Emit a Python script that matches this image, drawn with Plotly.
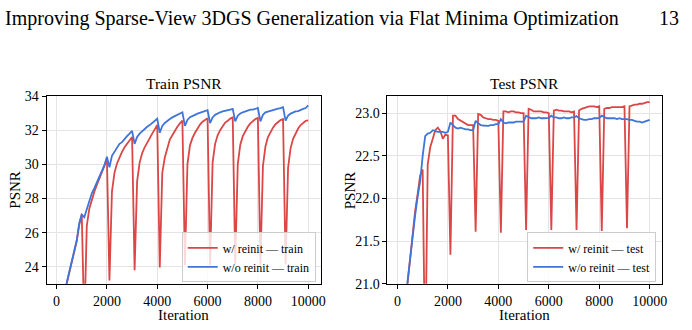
import plotly.graph_objects as go

iterations = list(range(100, 10001, 100))

train_reinit = [
    14.0, 17.5, 20.6, 23.0, 23.6, 24.2, 24.8, 25.5, 26.45, 27.1,
    20.5, 26.4, 27.4, 27.95, 28.4, 28.8, 29.15, 29.5, 29.9, 30.35,
    23.2, 28.4, 29.5, 30.05, 30.42, 30.73, 31.0, 31.2, 31.4, 31.6,
    23.8, 29.0, 30.1, 30.65, 31.0, 31.3, 31.55, 31.8, 32.05, 32.3,
    23.95, 29.5, 30.4, 31.0, 31.45, 31.7, 32.0, 32.2, 32.4, 32.57,
    24.1, 30.0, 31.1, 31.55, 31.85, 32.1, 32.33, 32.5, 32.6, 32.7,
    24.1, 30.1, 31.2, 31.7, 32.0, 32.25, 32.45, 32.55, 32.68, 32.75,
    24.15, 30.0, 31.15, 31.65, 31.95, 32.2, 32.4, 32.55, 32.65, 32.72,
    24.1, 29.9, 31.05, 31.6, 31.9, 32.15, 32.35, 32.5, 32.6, 32.65,
    24.15, 29.8, 30.95, 31.5, 31.85, 32.1, 32.3, 32.45, 32.55, 32.57,
]

train_noreinit = [
    14.5, 18.0, 21.0, 23.05, 23.65, 24.3, 24.85, 25.55, 26.55, 27.05,
    26.9, 27.35, 27.9, 28.3, 28.6, 28.95, 29.25, 29.55, 29.95, 30.45,
    29.83, 30.5, 30.75, 30.95, 31.2, 31.3, 31.5, 31.65, 31.8, 31.96,
    31.2, 31.6, 31.8, 31.95, 32.05, 32.2, 32.3, 32.42, 32.55, 32.67,
    31.85, 32.25, 32.42, 32.55, 32.65, 32.75, 32.82, 32.88, 32.95, 33.05,
    32.25, 32.6, 32.76, 32.85, 32.9, 32.97, 33.02, 33.05, 33.1, 33.17,
    32.42, 32.75, 32.9, 33.0, 33.05, 33.1, 33.12, 33.17, 33.2, 33.25,
    32.52, 32.85, 32.98, 33.05, 33.1, 33.15, 33.2, 33.2, 33.25, 33.3,
    32.52, 32.9, 33.05, 33.1, 33.15, 33.2, 33.22, 33.27, 33.3, 33.35,
    32.56, 32.85, 32.97, 33.05, 33.1, 33.12, 33.2, 33.25, 33.3, 33.45,
]

test_reinit = [
    18.5, 19.6, 20.4, 21.0, 21.3, 21.6, 21.85, 22.05, 22.27, 22.34,
    20.0, 22.4, 22.6, 22.7, 22.8, 22.83, 22.79, 22.7, 22.75, 22.74,
    21.34, 22.97, 22.97, 22.93, 22.91, 22.9, 22.88, 22.86, 22.86, 22.86,
    21.61, 22.99, 22.98, 22.95, 22.94, 22.93, 22.93, 22.92, 22.92, 22.91,
    21.6, 23.02, 23.02, 23.01, 23.02, 23.02, 23.01, 23.01, 23.0, 23.0,
    21.63, 23.05, 23.04, 23.02, 23.02, 23.02, 23.02, 23.01, 23.01, 23.0,
    21.63, 23.03, 23.04, 23.03, 23.03, 23.02, 23.02, 23.02, 23.01, 23.02,
    21.63, 23.03, 23.05, 23.06, 23.07, 23.08, 23.08, 23.08, 23.07, 23.08,
    21.62, 23.05, 23.06, 23.06, 23.07, 23.07, 23.07, 23.07, 23.07, 23.08,
    21.65, 23.08, 23.09, 23.1, 23.1, 23.11, 23.11, 23.12, 23.13, 23.13,
]

test_noreinit = [
    18.5, 19.6, 20.5, 21.03, 21.3, 21.55, 21.8, 22.02, 22.2, 22.5,
    22.73, 22.76, 22.77, 22.8, 22.79, 22.78, 22.78, 22.78, 22.77, 22.78,
    22.89, 22.86, 22.83, 22.82, 22.83, 22.82, 22.81, 22.81, 22.8, 22.8,
    22.91, 22.88, 22.86, 22.855, 22.85, 22.85, 22.86, 22.86, 22.87, 22.87,
    22.93, 22.89, 22.88, 22.89, 22.89, 22.89, 22.9, 22.9, 22.9, 22.9,
    22.97, 22.95, 22.94, 22.94, 22.94, 22.95, 22.94, 22.94, 22.945, 22.945,
    22.97, 22.95, 22.95, 22.94, 22.94, 22.95, 22.94, 22.94, 22.95, 22.95,
    22.965, 22.94, 22.93, 22.92, 22.92, 22.93, 22.93, 22.94, 22.94, 22.945,
    22.97, 22.95, 22.94, 22.94, 22.94, 22.94, 22.93, 22.94, 22.93, 22.93,
    22.93, 22.92, 22.92, 22.91, 22.9, 22.9, 22.89, 22.9, 22.91, 22.92,
]

header_text = "Improving Sparse-View 3DGS Generalization via Flat Minima Optimization"
page_number = "13"
x_ticks = [0, 2000, 4000, 6000, 8000, 10000]
x_tick_labels = ["0", "2000", "4000", "6000", "8000", "10000"]
train_y_ticks = [24, 26, 28, 30, 32, 34]
train_y_labels = ["24", "26", "28", "30", "32", "34"]
test_y_ticks = [21.0, 21.5, 22.0, 22.5, 23.0]
test_y_labels = ["21.0", "21.5", "22.0", "22.5", "23.0"]

RED = "#db4646"
BLUE = "#3f74d8"
FONT = "Liberation Serif"
W, H = 692, 330

fig = go.Figure()

fig.add_trace(go.Scatter(x=iterations, y=train_reinit, mode="lines", name="w/ reinit — train",
                         line=dict(color=RED, width=1.8), xaxis="x", yaxis="y", legend="legend"))
fig.add_trace(go.Scatter(x=iterations, y=train_noreinit, mode="lines", name="w/o reinit — train",
                         line=dict(color=BLUE, width=1.8), xaxis="x", yaxis="y", legend="legend"))
fig.add_trace(go.Scatter(x=iterations, y=test_reinit, mode="lines", name="w/ reinit — test",
                         line=dict(color=RED, width=1.8), xaxis="x2", yaxis="y2", legend="legend2"))
fig.add_trace(go.Scatter(x=iterations, y=test_noreinit, mode="lines", name="w/o reinit — test",
                         line=dict(color=BLUE, width=1.8), xaxis="x2", yaxis="y2", legend="legend2"))

ydom = [1 - 290 / H, 1 - 93.3 / H]
axis_common = dict(showline=True, linecolor="black", linewidth=1, mirror=True,
                   ticks="outside", ticklen=4, tickcolor="black", tickwidth=1,
                   showgrid=True, gridcolor="#e4e4e4", gridwidth=1, zeroline=False,
                   tickfont=dict(family=FONT, size=14, color="black"))

fig.update_layout(
    width=W, height=H,
    margin=dict(l=0, r=0, t=0, b=0),
    paper_bgcolor="white", plot_bgcolor="white",
    font=dict(family=FONT, color="black"),
    xaxis=dict(domain=[47 / W, 323 / W], range=[-395, 10495], tickvals=x_ticks, ticktext=x_tick_labels,
               anchor="y", **axis_common),
    yaxis=dict(domain=ydom, range=[23.0, 34.0], tickvals=train_y_ticks, ticktext=train_y_labels,
               anchor="x", **axis_common),
    xaxis2=dict(domain=[390.3 / W, 667 / W], range=[-395, 10495], tickvals=x_ticks, ticktext=x_tick_labels,
                anchor="y2", **axis_common),
    yaxis2=dict(domain=ydom, range=[21.0, 23.2], tickvals=test_y_ticks, ticktext=test_y_labels,
                anchor="x2", **axis_common),
    legend=dict(x=318 / W, y=1 - 288.5 / H, xanchor="right", yanchor="bottom",
                bgcolor="rgba(255,255,255,0.8)", bordercolor="#cccccc", borderwidth=1,
                font=dict(family=FONT, size=12, color="black")),
    legend2=dict(x=661 / W, y=1 - 288.5 / H, xanchor="right", yanchor="bottom",
                 bgcolor="rgba(255,255,255,0.8)", bordercolor="#cccccc", borderwidth=1,
                 font=dict(family=FONT, size=12, color="black")),
    showlegend=True,
)

ann = []
ann.append(dict(text=header_text, x=3 / W, y=1, xref="paper", yref="paper",
                xanchor="left", yanchor="top", yshift=2, showarrow=False,
                font=dict(family=FONT, size=20, color="black")))
ann.append(dict(text=page_number, x=686 / W, y=1, xref="paper", yref="paper",
                xanchor="right", yanchor="top", yshift=2, showarrow=False,
                font=dict(family=FONT, size=20, color="black")))
for cx, title in [((47 + 323) / 2, "Train PSNR"), ((390.3 + 667) / 2, "Test PSNR")]:
    ann.append(dict(text=title, x=cx / W, y=1 - 91 / H, xref="paper", yref="paper",
                    xanchor="center", yanchor="bottom", showarrow=False,
                    font=dict(family=FONT, size=15.5, color="black")))
    ann.append(dict(text="Iteration", x=cx / W, y=0, xref="paper", yref="paper",
                    xanchor="center", yanchor="bottom", yshift=-3, showarrow=False,
                    font=dict(family=FONT, size=15, color="black")))
for px in [15, 352]:
    ann.append(dict(text="PSNR", x=px / W, y=1 - 191.5 / H, xref="paper", yref="paper",
                    xanchor="center", yanchor="middle", showarrow=False, textangle=-90,
                    font=dict(family=FONT, size=15, color="black")))
fig.update_layout(annotations=ann)

fig.write_html("out.html")
